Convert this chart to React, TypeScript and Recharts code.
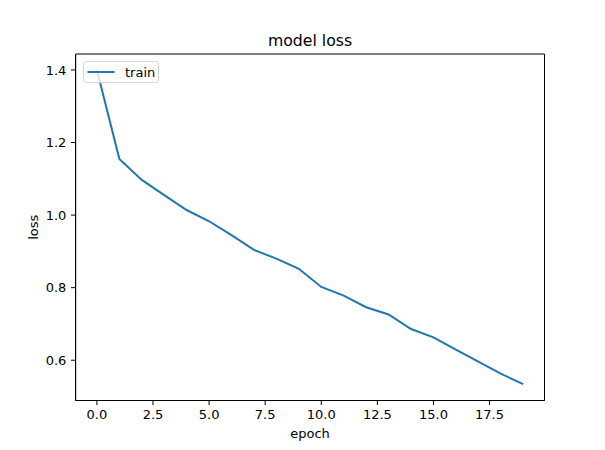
import React from "react";
import { LineChart, Line, XAxis, YAxis, Legend, ReferenceArea } from "recharts";

const epochs = [0, 1, 2, 3, 4, 5, 6, 7, 8, 9, 10, 11, 12, 13, 14, 15, 16, 17, 18, 19];
const trainLoss = [
  1.4, 1.155, 1.097, 1.055, 1.014, 0.983, 0.945, 0.904, 0.88, 0.852,
  0.802, 0.778, 0.746, 0.726, 0.686, 0.663, 0.629, 0.596, 0.563, 0.534,
];
const xTicks = [0, 2.5, 5, 7.5, 10, 12.5, 15, 17.5];
const yTicks = [0.6, 0.8, 1.0, 1.2, 1.4];

const data = epochs.map((e, i) => ({ epoch: e, train: trainLoss[i] }));

const X_DOMAIN: [number, number] = [-0.95, 19.95];
const Y_DOMAIN: [number, number] = [0.489, 1.444];

const FONT = "'DejaVu Sans', sans-serif";
const BLUE = "#1f77b4";

const LegendBox = () => (
  <div
    style={{
      width: 76,
      height: 22,
      border: "1px solid #d6d6d6",
      borderRadius: 3,
      background: "rgba(255,255,255,0.8)",
      position: "relative",
      fontFamily: FONT,
      fontSize: 13,
      boxSizing: "border-box",
    }}
  >
    <svg width={76} height={22} style={{ position: "absolute", left: -1, top: -1 }}>
      <line x1={4.5} x2={31.5} y1={11} y2={11} stroke={BLUE} strokeWidth={2} />
      <text x={42} y={15.5} fontFamily={FONT} fontSize={13} fill="#000">
        train
      </text>
    </svg>
  </div>
);

export default function App() {
  return (
    <div style={{ position: "absolute", left: 0, top: 0, width: 605, height: 450, background: "#fff" }}>
      <div
        style={{
          position: "absolute",
          left: 75.6,
          width: 468.9,
          top: 32,
          textAlign: "center",
          fontFamily: FONT,
          fontSize: 15.7,
          lineHeight: "18px",
          color: "#000",
        }}
      >
        model loss
      </div>
      <LineChart
        width={605}
        height={450}
        data={data}
        margin={{ top: 54, right: 60.5, bottom: 0, left: 0 }}
      >
        <XAxis
          dataKey="epoch"
          type="number"
          domain={X_DOMAIN}
          ticks={xTicks}
          allowDataOverflow
          height={49.5}
          stroke="#000"
          tickSize={4.6}
          tickMargin={4.6}
          tick={{ fill: "#000", fontSize: 13, fontFamily: FONT }}
          tickFormatter={(v: number) => v.toFixed(1)}
          label={{
            content: ({ viewBox }: any) => (
              <text
                x={viewBox.x + viewBox.width / 2}
                y={438}
                textAnchor="middle"
                fontFamily={FONT}
                fontSize={13}
                fill="#000"
              >
                epoch
              </text>
            ),
          }}
        />
        <YAxis
          type="number"
          domain={Y_DOMAIN}
          ticks={yTicks}
          allowDataOverflow
          width={75.6}
          stroke="#000"
          tickSize={4.6}
          tickMargin={4.6}
          tick={{ fill: "#000", fontSize: 13, fontFamily: FONT }}
          tickFormatter={(v: number) => v.toFixed(1)}
          label={{
            content: ({ viewBox }: any) => {
              const cx = 33;
              const cy = viewBox.y + viewBox.height / 2;
              return (
                <text
                  x={cx}
                  y={cy}
                  transform={`rotate(-90, ${cx}, ${cy})`}
                  textAnchor="middle"
                  dominantBaseline="central"
                  fontFamily={FONT}
                  fontSize={13}
                  fill="#000"
                >
                  loss
                </text>
              );
            },
          }}
        />
        <ReferenceArea
          x1={X_DOMAIN[0]}
          x2={X_DOMAIN[1]}
          y1={Y_DOMAIN[0]}
          y2={Y_DOMAIN[1]}
          fill="none"
          fillOpacity={0}
          stroke="#000"
          strokeWidth={1}
          ifOverflow="visible"
        />
        <Legend
          layout="vertical"
          align="center"
          verticalAlign="middle"
          wrapperStyle={{ left: 83, top: 61, width: 76, height: 22 }}
          content={() => <LegendBox />}
        />
        <Line
          type="linear"
          dataKey="train"
          name="train"
          stroke={BLUE}
          strokeWidth={2}
          dot={false}
          activeDot={false}
          isAnimationActive={false}
        />
      </LineChart>
    </div>
  );
}
